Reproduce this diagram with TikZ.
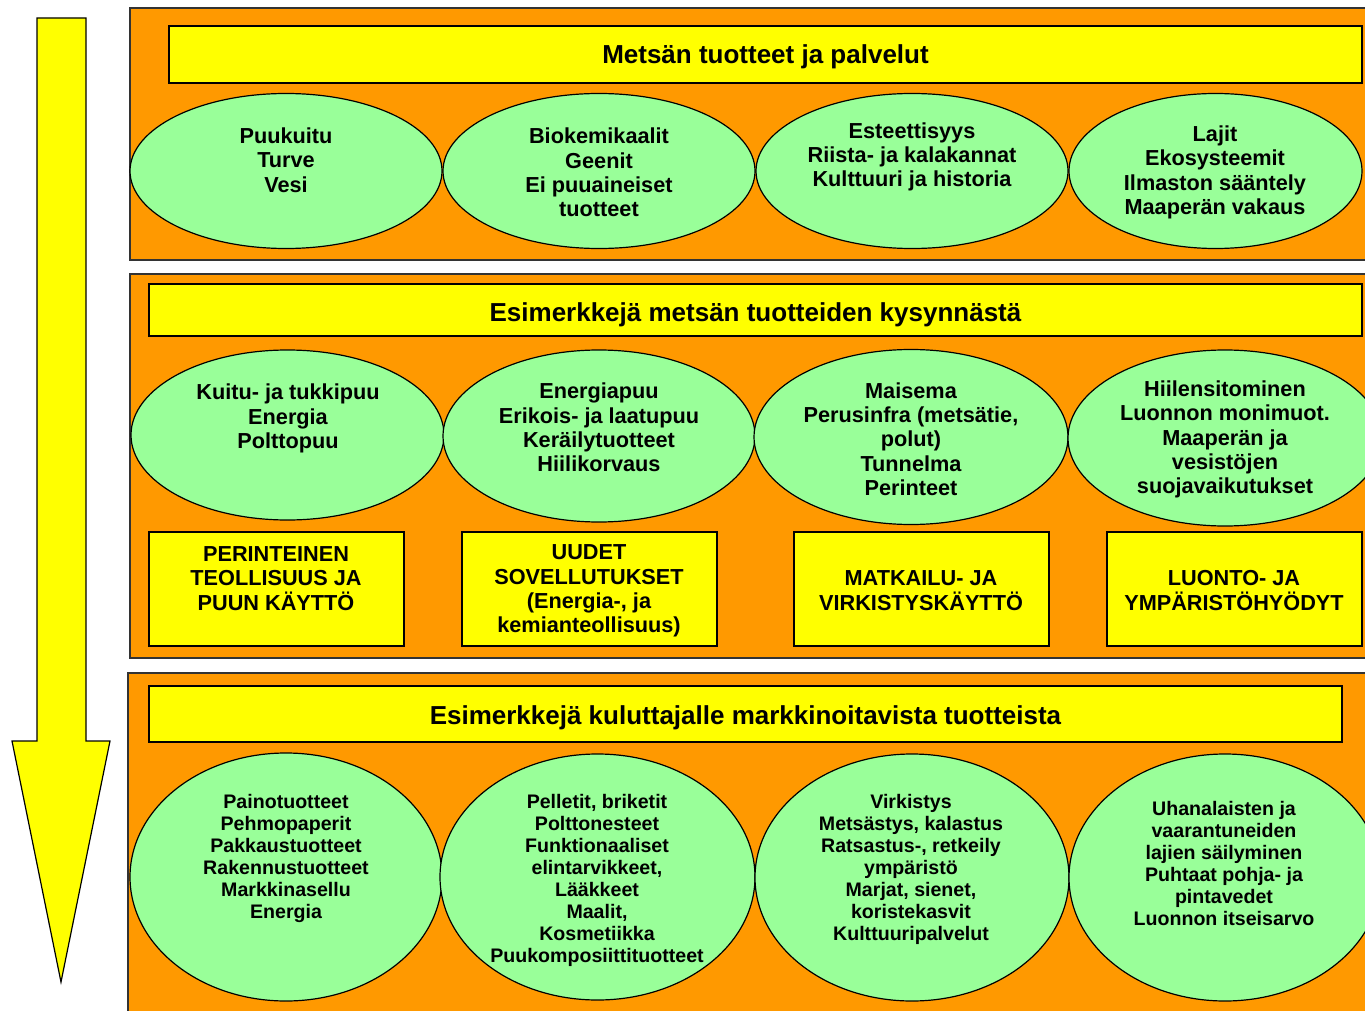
\documentclass[tikz,border=0pt]{standalone}
\usepackage{fontspec}
\setmainfont{Liberation Sans}
\usetikzlibrary{shapes.geometric}
\definecolor{panelorange}{HTML}{FF9900}
\definecolor{baryellow}{HTML}{FFFF00}
\definecolor{ellgreen}{HTML}{99FF99}
\begin{document}
\begin{tikzpicture}[x=1pt,y=-1pt,
  panel/.style={draw=black!80, line width=1.6pt, fill=panelorange},
  bar/.style={draw=black, line width=1.2pt, fill=baryellow, inner sep=0pt},
  ell/.style={ellipse, draw=black, line width=1.2pt, fill=ellgreen, inner sep=0pt},
  ttl/.style={font=\fontsize{26}{30}\selectfont\bfseries},
  etxt/.style={align=center, inner sep=0pt, font=\fontsize{21.7}{24.3}\selectfont\bfseries},
  stxt/.style={align=center, inner sep=0pt, font=\fontsize{19.6}{22}\selectfont\bfseries}]
\useasboundingbox (0,0) rectangle (1365,1011);
\fill[white] (0,0) rectangle (1365,1011);

% arrow
\draw[fill=baryellow, line width=1.2pt] (37,18) -- (86,18) -- (86,741) -- (110,741) -- (61,982) -- (12,741) -- (37,741) -- cycle;

% ---------- panel 1 ----------
\draw[panel] (130,8) rectangle (1385,260);
\node[bar, minimum width=1193pt, minimum height=57pt] (bar1) at (765.5,54.5) {};
\node[ttl] (ttl1) at (765.5,57) {Metsän tuotteet ja palvelut};

\node[ell, minimum width=312pt, minimum height=155pt] (e11) at (286,171) {};
\node[ell, minimum width=312pt, minimum height=155pt] (e12) at (599,171) {};
\node[ell, minimum width=312pt, minimum height=155pt] (e13) at (912,171) {};
\node[ell, minimum width=293pt, minimum height=155pt] (e14) at (1215.5,171) {};
\node[etxt] (t11) at (286,160) {Puukuitu\\Turve\\Vesi};
\node[etxt] (t12) at (599,172.5) {Biokemikaalit\\Geenit\\Ei puuaineiset\\tuotteet};
\node[etxt] (t13) at (912,157) {Esteettisyys\\Riista- ja kalakannat\\Kulttuuri ja historia};
\node[etxt] (t14) at (1215,172.5) {Lajit\\Ekosysteemit\\Ilmaston sääntely\\Maaperän vakaus};

% ---------- panel 2 ----------
\draw[panel] (130,274) rectangle (1385,658);
\node[bar, minimum width=1213pt, minimum height=52pt] (bar2) at (755.5,310) {};
\node[ttl] (ttl2) at (755.5,315) {Esimerkkejä metsän tuotteiden kysynnästä};

\node[ell, minimum width=313pt, minimum height=170pt] (e21) at (287.5,435) {};
\node[ell, minimum width=312pt, minimum height=172pt] (e22) at (599,436) {};
\node[ell, minimum width=314pt, minimum height=175pt] (e23) at (911,437) {};
\node[ell, minimum width=314pt, minimum height=176pt] (e24) at (1225,438) {};
\node[etxt] (t21) at (288,418.5) {Kuitu- ja tukkipuu\\Energia\\Polttopuu};
\node[etxt] (t22) at (599,427.5) {Energiapuu\\Erikois- ja laatupuu\\Keräilytuotteet\\Hiilikorvaus};
\node[etxt] (t23) at (911,439) {Maisema\\Perusinfra (metsätie,\\polut)\\Tunnelma\\Perinteet};
\node[etxt] (t24) at (1225,439.5) {Hiilensitominen\\Luonnon monimuot.\\Maaperän ja\\vesistöjen\\suojavaikutukset};

\node[bar, minimum width=255pt, minimum height=114pt] (b1) at (276.5,589) {};
\node[bar, minimum width=255pt, minimum height=114pt] (b2) at (589.5,589) {};
\node[bar, minimum width=255pt, minimum height=114pt] (b3) at (921.5,589) {};
\node[bar, minimum width=255pt, minimum height=114pt] (b4) at (1234.5,589) {};
\node[etxt] (tb1) at (276,578.5) {PERINTEINEN\\TEOLLISUUS JA\\PUUN KÄYTTÖ};
\node[etxt] (tb2) at (589,591) {UUDET\\SOVELLUTUKSET\\(Energia-, ja\\kemianteollisuus)};
\node[etxt] (tb3) at (921,590.5) {MATKAILU- JA\\VIRKISTYSKÄYTTÖ};
\node[etxt] (tb4) at (1234,590.5) {LUONTO- JA\\YMPÄRISTÖHYÖDYT};

% ---------- panel 3 ----------
\draw[panel] (128,673) rectangle (1385,1030);
\node[bar, minimum width=1193pt, minimum height=56pt] (bar3) at (745.5,714) {};
\node[ttl] (ttl3) at (745.5,718) {Esimerkkejä kuluttajalle markkinoitavista tuotteista};

\node[ell, minimum width=312pt, minimum height=248pt] (e31) at (286,877) {};
\node[ell, minimum width=315pt, minimum height=246pt] (e32) at (597.5,877) {};
\node[ell, minimum width=314pt, minimum height=247pt] (e33) at (912,877.5) {};
\node[ell, minimum width=312pt, minimum height=247pt] (e34) at (1225,877.5) {};
\node[stxt] (t31) at (286,858.5) {Painotuotteet\\Pehmopaperit\\Pakkaustuotteet\\Rakennustuotteet\\Markkinasellu\\Energia};
\node[stxt] (t32) at (597,880) {Pelletit, briketit\\Polttonesteet\\Funktionaaliset\\elintarvikkeet,\\Lääkkeet\\Maalit,\\Kosmetiikka\\Puukomposiittituotteet};
\node[stxt] (t33) at (911,869) {Virkistys\\Metsästys, kalastus\\Ratsastus-, retkeily\\ympäristö\\Marjat, sienet,\\koristekasvit\\Kulttuuripalvelut};
\node[stxt] (t34) at (1224,863.5) {Uhanalaisten ja\\vaarantuneiden\\lajien säilyminen\\Puhtaat pohja- ja\\pintavedet\\Luonnon itseisarvo};
\end{tikzpicture}
\end{document}
